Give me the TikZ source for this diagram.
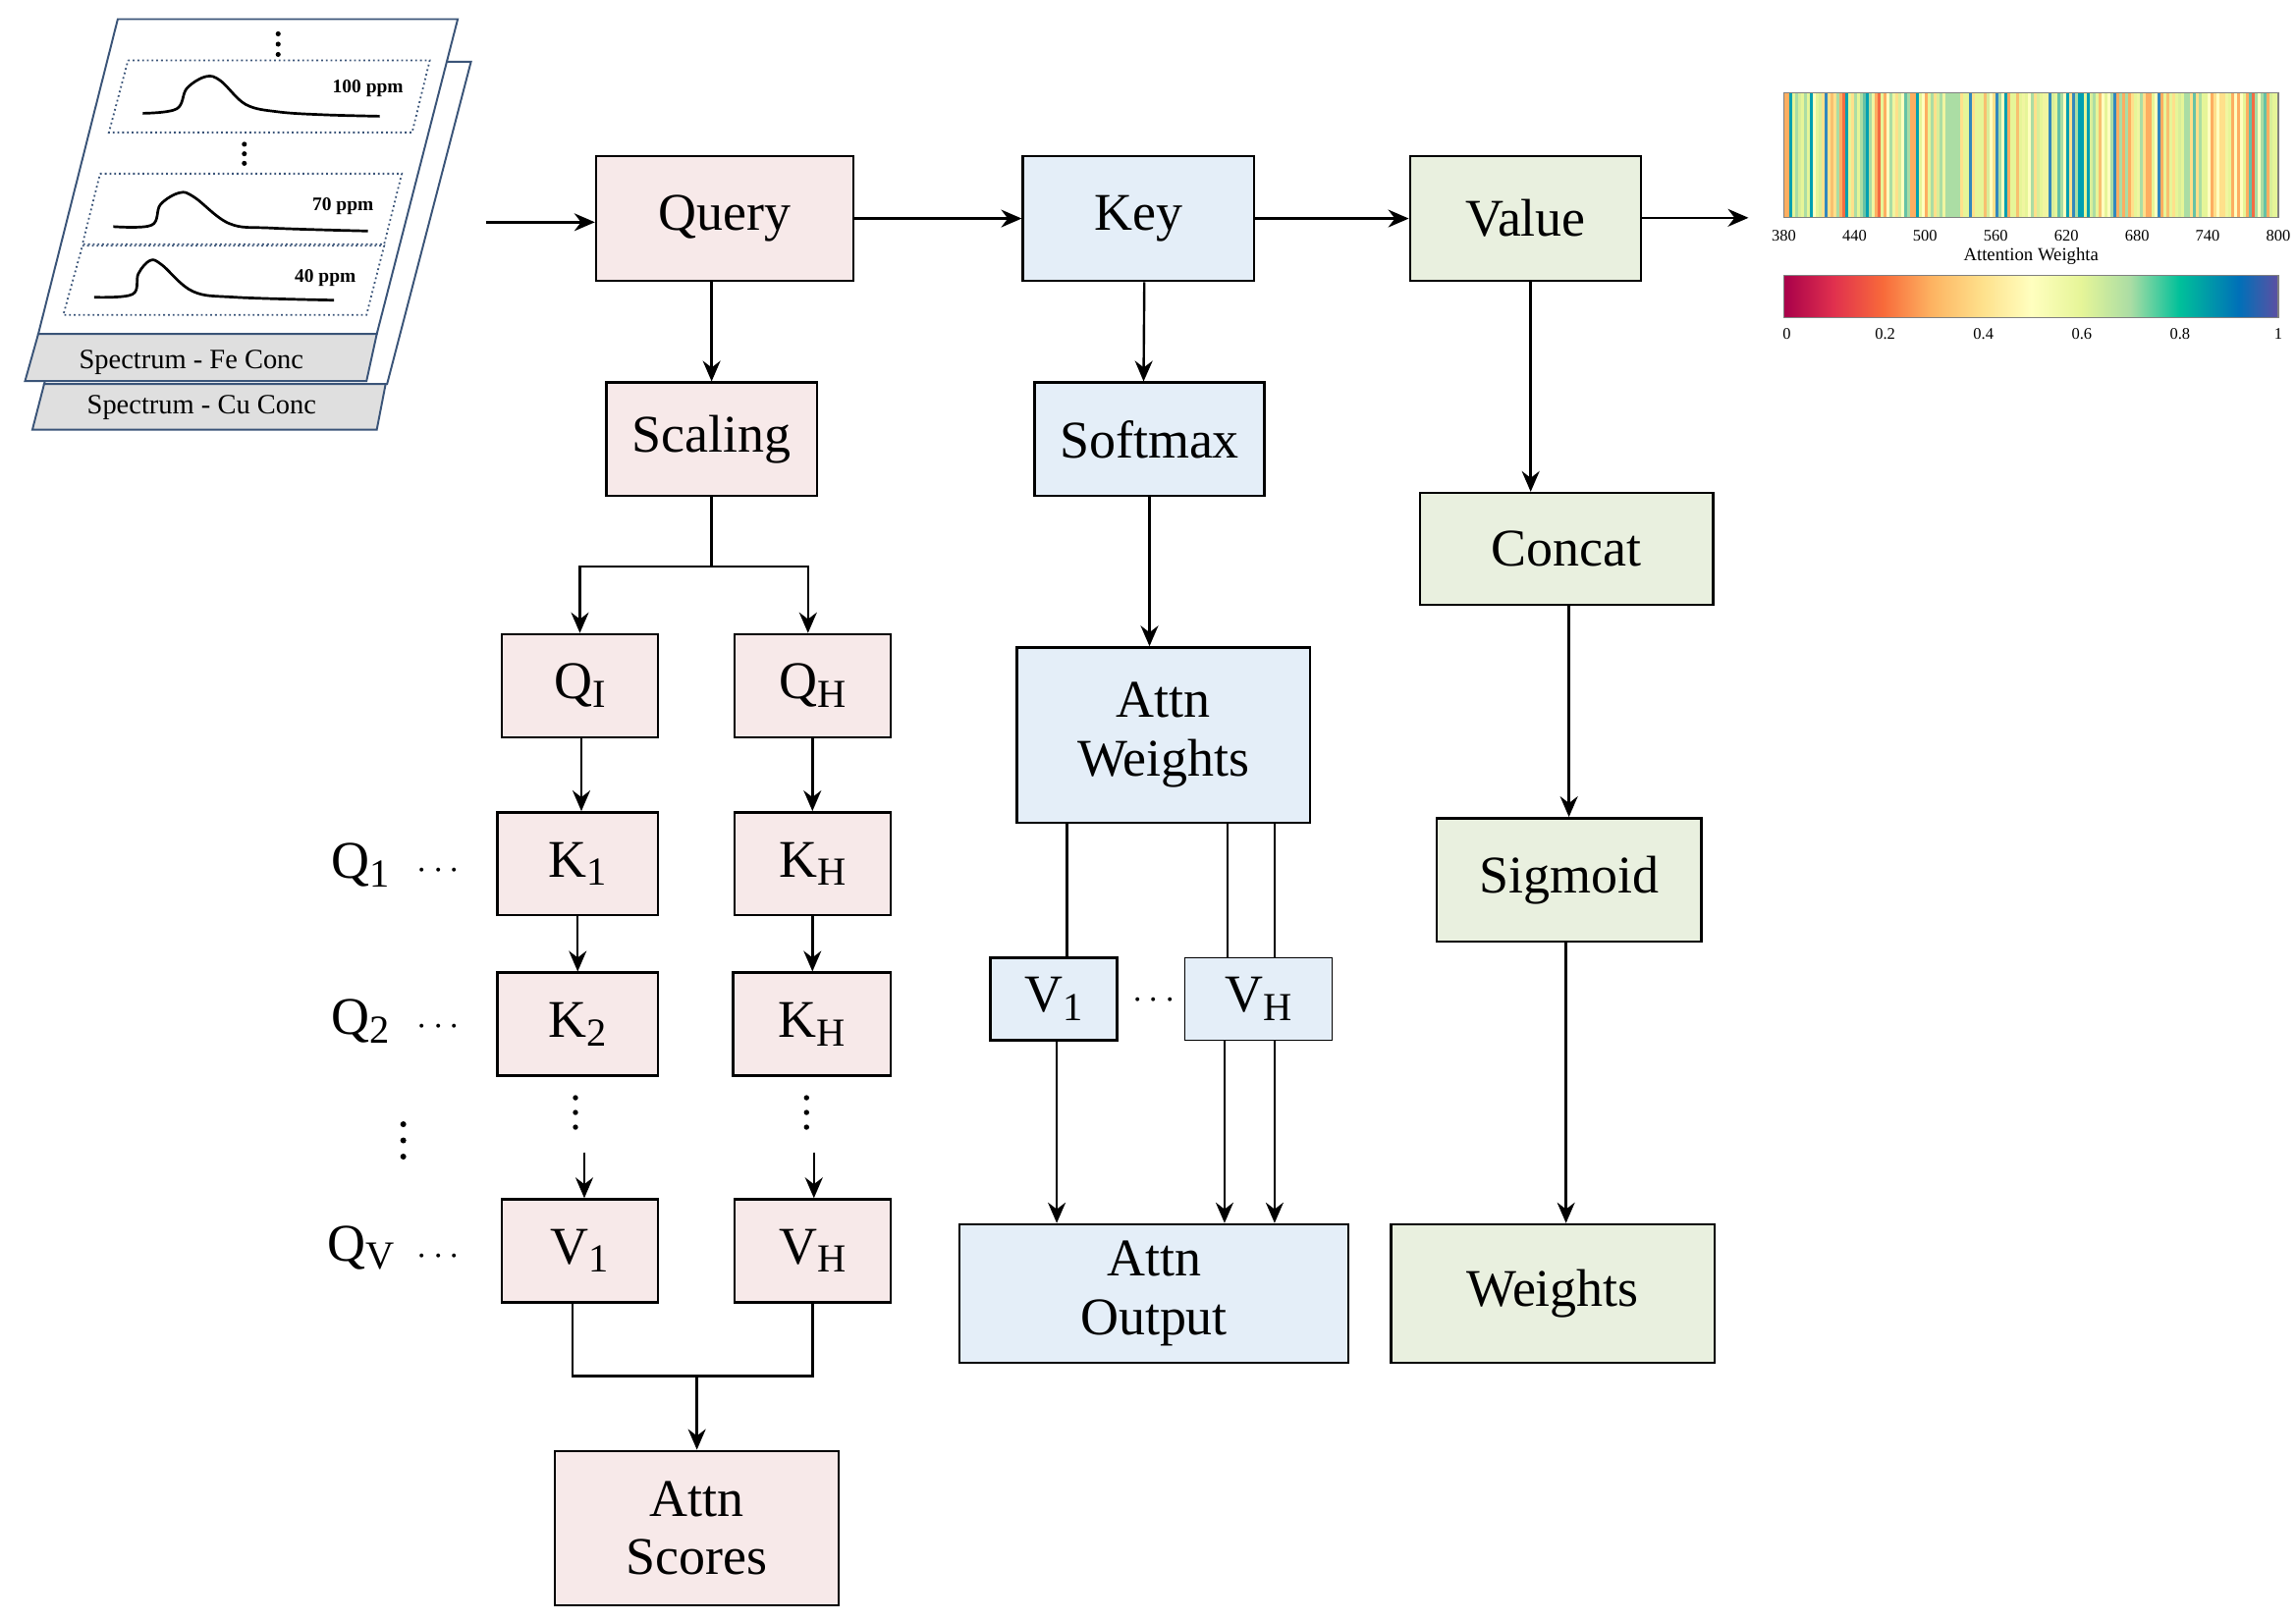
\documentclass[tikz,border=0pt]{standalone}
\usepackage{fontspec}
\setmainfont{Liberation Serif}
\usetikzlibrary{arrows.meta,calc}
\definecolor{pinkf}{HTML}{F7E9E9}
\definecolor{bluef}{HTML}{E4EEF8}
\definecolor{greenf}{HTML}{E9F0DF}
\definecolor{pagec}{HTML}{3A5478}
\definecolor{c1}{HTML}{FEE08B}\definecolor{c2}{HTML}{E6F598}\definecolor{c3}{HTML}{ABDDA4}
\definecolor{c4}{HTML}{FDAE61}\definecolor{c5}{HTML}{F46D43}\definecolor{c6}{HTML}{66C2A5}
\definecolor{c7}{HTML}{3288BD}\definecolor{c8}{HTML}{FFFFBF}\definecolor{c9}{HTML}{E6F598}
\definecolor{c10}{HTML}{ABDDA4}\definecolor{c11}{HTML}{FEE08B}\definecolor{c12}{HTML}{00A0B0}
\definecolor{c13}{HTML}{D8EE9A}\definecolor{c14}{HTML}{F8C070}\definecolor{c15}{HTML}{E6F598}
\definecolor{c16}{HTML}{FDAE61}\definecolor{c17}{HTML}{ABDDA4}\definecolor{c18}{HTML}{F0F5A0}
\definecolor{s0}{HTML}{A8004A}\definecolor{s1}{HTML}{E0304E}\definecolor{s2}{HTML}{F86A3A}
\definecolor{s3}{HTML}{FDB462}\definecolor{s4}{HTML}{FEE08B}\definecolor{s5}{HTML}{FFFFBF}
\definecolor{s6}{HTML}{E6F598}\definecolor{s7}{HTML}{ABDDA4}\definecolor{s8}{HTML}{00C09A}
\definecolor{s9}{HTML}{0070B8}\definecolor{s10}{HTML}{5E4FA2}
\pgfdeclarehorizontalshading{spectralsh}{100bp}{color(0bp)=(s0); color(25bp)=(s0);
 color(30bp)=(s1); color(35bp)=(s2); color(40bp)=(s3); color(45bp)=(s4); color(50bp)=(s5);
 color(55bp)=(s6); color(60bp)=(s7); color(65bp)=(s8); color(71bp)=(s9); color(75bp)=(s10); color(100bp)=(s10)}
\newcommand\subsc[1]{\raisebox{-0.35ex}{\fontsize{27}{27}\selectfont #1}}
\tikzset{
 box/.style={draw=black,line width=1.6pt,inner sep=0pt,align=center,font=\fontsize{36}{40}\selectfont},
 pb/.style={box,fill=pinkf}, bb/.style={box,fill=bluef}, gb/.style={box,fill=greenf},
 arr/.style={line width=1.6pt,-{Stealth[length=14pt,width=12pt]}},
 ln/.style={line width=1.6pt},
 lbl/.style={font=\fontsize{36}{40}\selectfont,inner sep=0pt},
 dotbox/.style={draw=pagec,line width=1.2pt,dotted},
 curve/.style={line width=1.8pt,smooth,tension=0.6},
 ppm/.style={font=\bfseries\fontsize{13}{13}\selectfont,inner sep=0pt}
}
\begin{document}
\begin{tikzpicture}[x=1pt,y=-1pt]
\useasboundingbox (0,0) rectangle (1560,1101);
% spectrum stack
\fill[white,draw=pagec,line width=1.3pt] (88,42) -- (320,42) -- (263,261) -- (30,261) -- cycle;
\fill[gray!25,draw=pagec,line width=1.3pt] (30,261) -- (262,261) -- (256,292) -- (22,292) -- cycle;
\node[font=\fontsize{19}{19}\selectfont,inner sep=0pt] (cu) at (137,277) {Spectrum - Cu Conc};
\fill[white,draw=pagec,line width=1.3pt] (80,13) -- (311,13) -- (256,227) -- (26,227) -- cycle;
\fill[gray!25,draw=pagec,line width=1.3pt] (26,227) -- (256,227) -- (249,259) -- (17,259) -- cycle;
\node[font=\fontsize{19}{19}\selectfont,inner sep=0pt] (fe) at (130,246) {Spectrum - Fe Conc};
\draw[dotbox] (87,41) -- (292,41) -- (280,90) -- (74,90) -- cycle;
\draw[dotbox] (68,118) -- (273,118) -- (261,166) -- (56,166) -- cycle;
\draw[dotbox] (56,167) -- (261,167) -- (249,214) -- (43,214) -- cycle;
\draw[curve] plot coordinates {(97,77) (120,74) (127,60) (140,52) (150,55) (167,71) (189,76) (220,78) (258,79)};
\draw[curve] plot coordinates {(77,154) (103,153) (109,139) (122,131) (132,134) (156,152) (185,155) (250,157)};
\draw[curve] plot coordinates {(64,202) (90,200) (94,186) (102,177) (110,180) (131,198) (160,202) (227,204)};
\node[ppm] (p1) at (250,60) {100 ppm};
\node[ppm] (p2) at (233,140) {70 ppm};
\node[ppm] (p3) at (221,189) {40 ppm};
\foreach \yy in {23,30,37} \fill (189,\yy) circle (1.7);
\foreach \yy in {98,104.5,111} \fill (166,\yy) circle (1.7);
\coordinate (in) at (330,151);
% boxes
\node[pb,minimum width=175,minimum height=85] (q) at (492.5,148.5) {Query};
\node[bb,minimum width=157,minimum height=85] (k) at (773.5,148.5) {Key};
\node[gb,minimum width=157,minimum height=85] (v) at (1036.5,148.5) {Value};
\node[pb,minimum width=143,minimum height=77] (sc) at (483.5,298.5) {Scaling};
\node[bb,minimum width=156,minimum height=77] (sm) at (781,298.5) {Softmax};
\node[gb,minimum width=199,minimum height=76] (cc) at (1064.5,373) {Concat};
\node[pb,minimum width=106,minimum height=70] (qi) at (394,466) {Q\subsc{I}};
\node[pb,minimum width=106,minimum height=70] (qh) at (552,466) {Q\subsc{H}};
\node[pb,minimum width=109,minimum height=70] (k1) at (392.5,587) {K\subsc{1}};
\node[pb,minimum width=106,minimum height=70] (kh1) at (552,587) {K\subsc{H}};
\node[pb,minimum width=109,minimum height=70] (k2) at (392.5,696) {K\subsc{2}};
\node[pb,minimum width=107,minimum height=70] (kh2) at (551.5,696) {K\subsc{H}};
\node[pb,minimum width=106,minimum height=70] (v1) at (394,850) {V\subsc{1}};
\node[pb,minimum width=106,minimum height=70] (vh) at (552,850) {V\subsc{H}};
\node[pb,minimum width=193,minimum height=105] (as) at (473.5,1038.5) {Attn\\Scores};
\node[bb,minimum width=199,minimum height=119] (aw) at (790.5,499.5) {Attn\\Weights};
\node[bb,minimum width=86,minimum height=56] (bv1) at (716,679) {V\subsc{1}};
\node[bb,line width=0.8pt,minimum width=100,minimum height=56] (bvh) at (855,679) {V\subsc{H}};
\node[bb,minimum width=264,minimum height=94] (ao) at (784,879) {Attn\\Output};
\node[gb,minimum width=180,minimum height=84] (sg) at (1066,598) {Sigmoid};
\node[gb,minimum width=220,minimum height=94] (w) at (1055,879) {Weights};
% labels
\node[lbl] (lq1) at (245,588) {Q\subsc{1}};
\node[lbl] (lq2) at (245,694) {Q\subsc{2}};
\node[lbl] (lqv) at (245,848) {Q\subsc{V}};
\foreach \yy/\nm in {592/d1,698/d2,854/d3} \node[lbl] (\nm) at (298,\yy) {$\cdots$};
\node[lbl] (d4) at (784,680) {$\cdots$};
\foreach \yy in {764,775,786} \fill (274,\yy) circle (2);
\foreach \yy in {746,756,766} {\fill (391,\yy) circle (1.8); \fill (548,\yy) circle (1.8);}
% top flow
\draw[arr] (in) -- (q.west |- in);
\draw[arr] (q.east) -- (k.west);
\draw[arr] (k.east) -- (v.west);
\coordinate (out) at (1188,148);
\draw[arr] (v.east |- out) -- (out);
\draw[arr] (q.south -| sc) -- (sc.north);
\draw[ln] (sc.south) -- ++(0,47) coordinate (br);
\draw[arr] (br) -| (qi.north);
\draw[arr] (br) -| ([xshift=-3pt]qh.north);
\draw[arr] ([xshift=1pt]qi.south) -- ([xshift=2.5pt]k1.north);
\draw[arr] (qh.south) -- (kh1.north);
\draw[arr] (k1.south) -- (k2.north);
\draw[arr] (kh1.south) -- ([xshift=0.5pt]kh2.north);
\draw[arr] ([xshift=3pt]v1.north |- 0,783) -- ([xshift=3pt]v1.north);
\draw[arr] ([xshift=1pt]vh.north |- 0,783) -- ([xshift=1pt]vh.north);
\draw[ln] ([xshift=-5pt]v1.south) |- (0,935 -| vh) coordinate (jn) -- (vh.south);
\draw[arr] (jn -| as) -- (as.north);
% key column
\draw[arr] ([xshift=4pt]k.south) -- (sm.north -| 777,0);
\draw[arr] (sm.south) -- (sm.south |- aw.north);
\draw[ln] ([xshift=9pt]bv1.north |- aw.south) -- ([xshift=9pt]bv1.north);
\draw[ln] ([xshift=-21pt]bvh.north |- aw.south) -- ([xshift=-21pt]bvh.north);
\draw[ln] ([xshift=11pt]bvh.north |- aw.south) -- ([xshift=11pt]bvh.north);
\draw[arr] ([xshift=2pt]bv1.south) -- ([xshift=2pt]bv1.south |- ao.north);
\draw[arr] ([xshift=-23pt]bvh.south) -- ([xshift=-23pt]bvh.south |- ao.north);
\draw[arr] ([xshift=11pt]bvh.south) -- ([xshift=11pt]bvh.south |- ao.north);
% value column
\draw[arr] ([xshift=3.5pt]v.south) -- ([xshift=-24.5pt]cc.north);
\draw[arr] ([xshift=1.5pt]cc.south) -- (sg.north);
\draw[arr] ([xshift=-2pt]sg.south) -- ([xshift=9pt]w.north);
% attention stripes
\fill[c2] (1212,63) rectangle (1548,148);
\pgfmathsetseed{11}
\foreach \i in {0,...,167}{
  \pgfmathrandominteger{\r}{1}{18}
  \fill[c\r] ({1212+2*\i},63) rectangle ({1214.2+2*\i},148);
}
\node[draw=gray,line width=0.8pt,minimum width=336,minimum height=85,inner sep=0pt] (stripes) at (1380,105.5) {};
\foreach \k/\t in {0/380,1/440,2/500,3/560,4/620,5/680,6/740,7/800}
  \node[font=\fontsize{11}{11}\selectfont,inner sep=0pt] at ({1212+48*\k},160) {\t};
\node[font=\fontsize{12.5}{12.5}\selectfont,inner sep=0pt] (atl) at (1380,174) {Attention Weighta};
\shade[shading=spectralsh,draw=gray,line width=0.8pt] (1212,187) rectangle (1548,216);
\foreach \k/\t in {0/0,1/0.2,2/0.4,3/0.6,4/0.8,5/1}
  \node[font=\fontsize{11}{11}\selectfont,inner sep=0pt] at ({1214+66.8*\k},227) {\t};
\end{tikzpicture}
\end{document}
